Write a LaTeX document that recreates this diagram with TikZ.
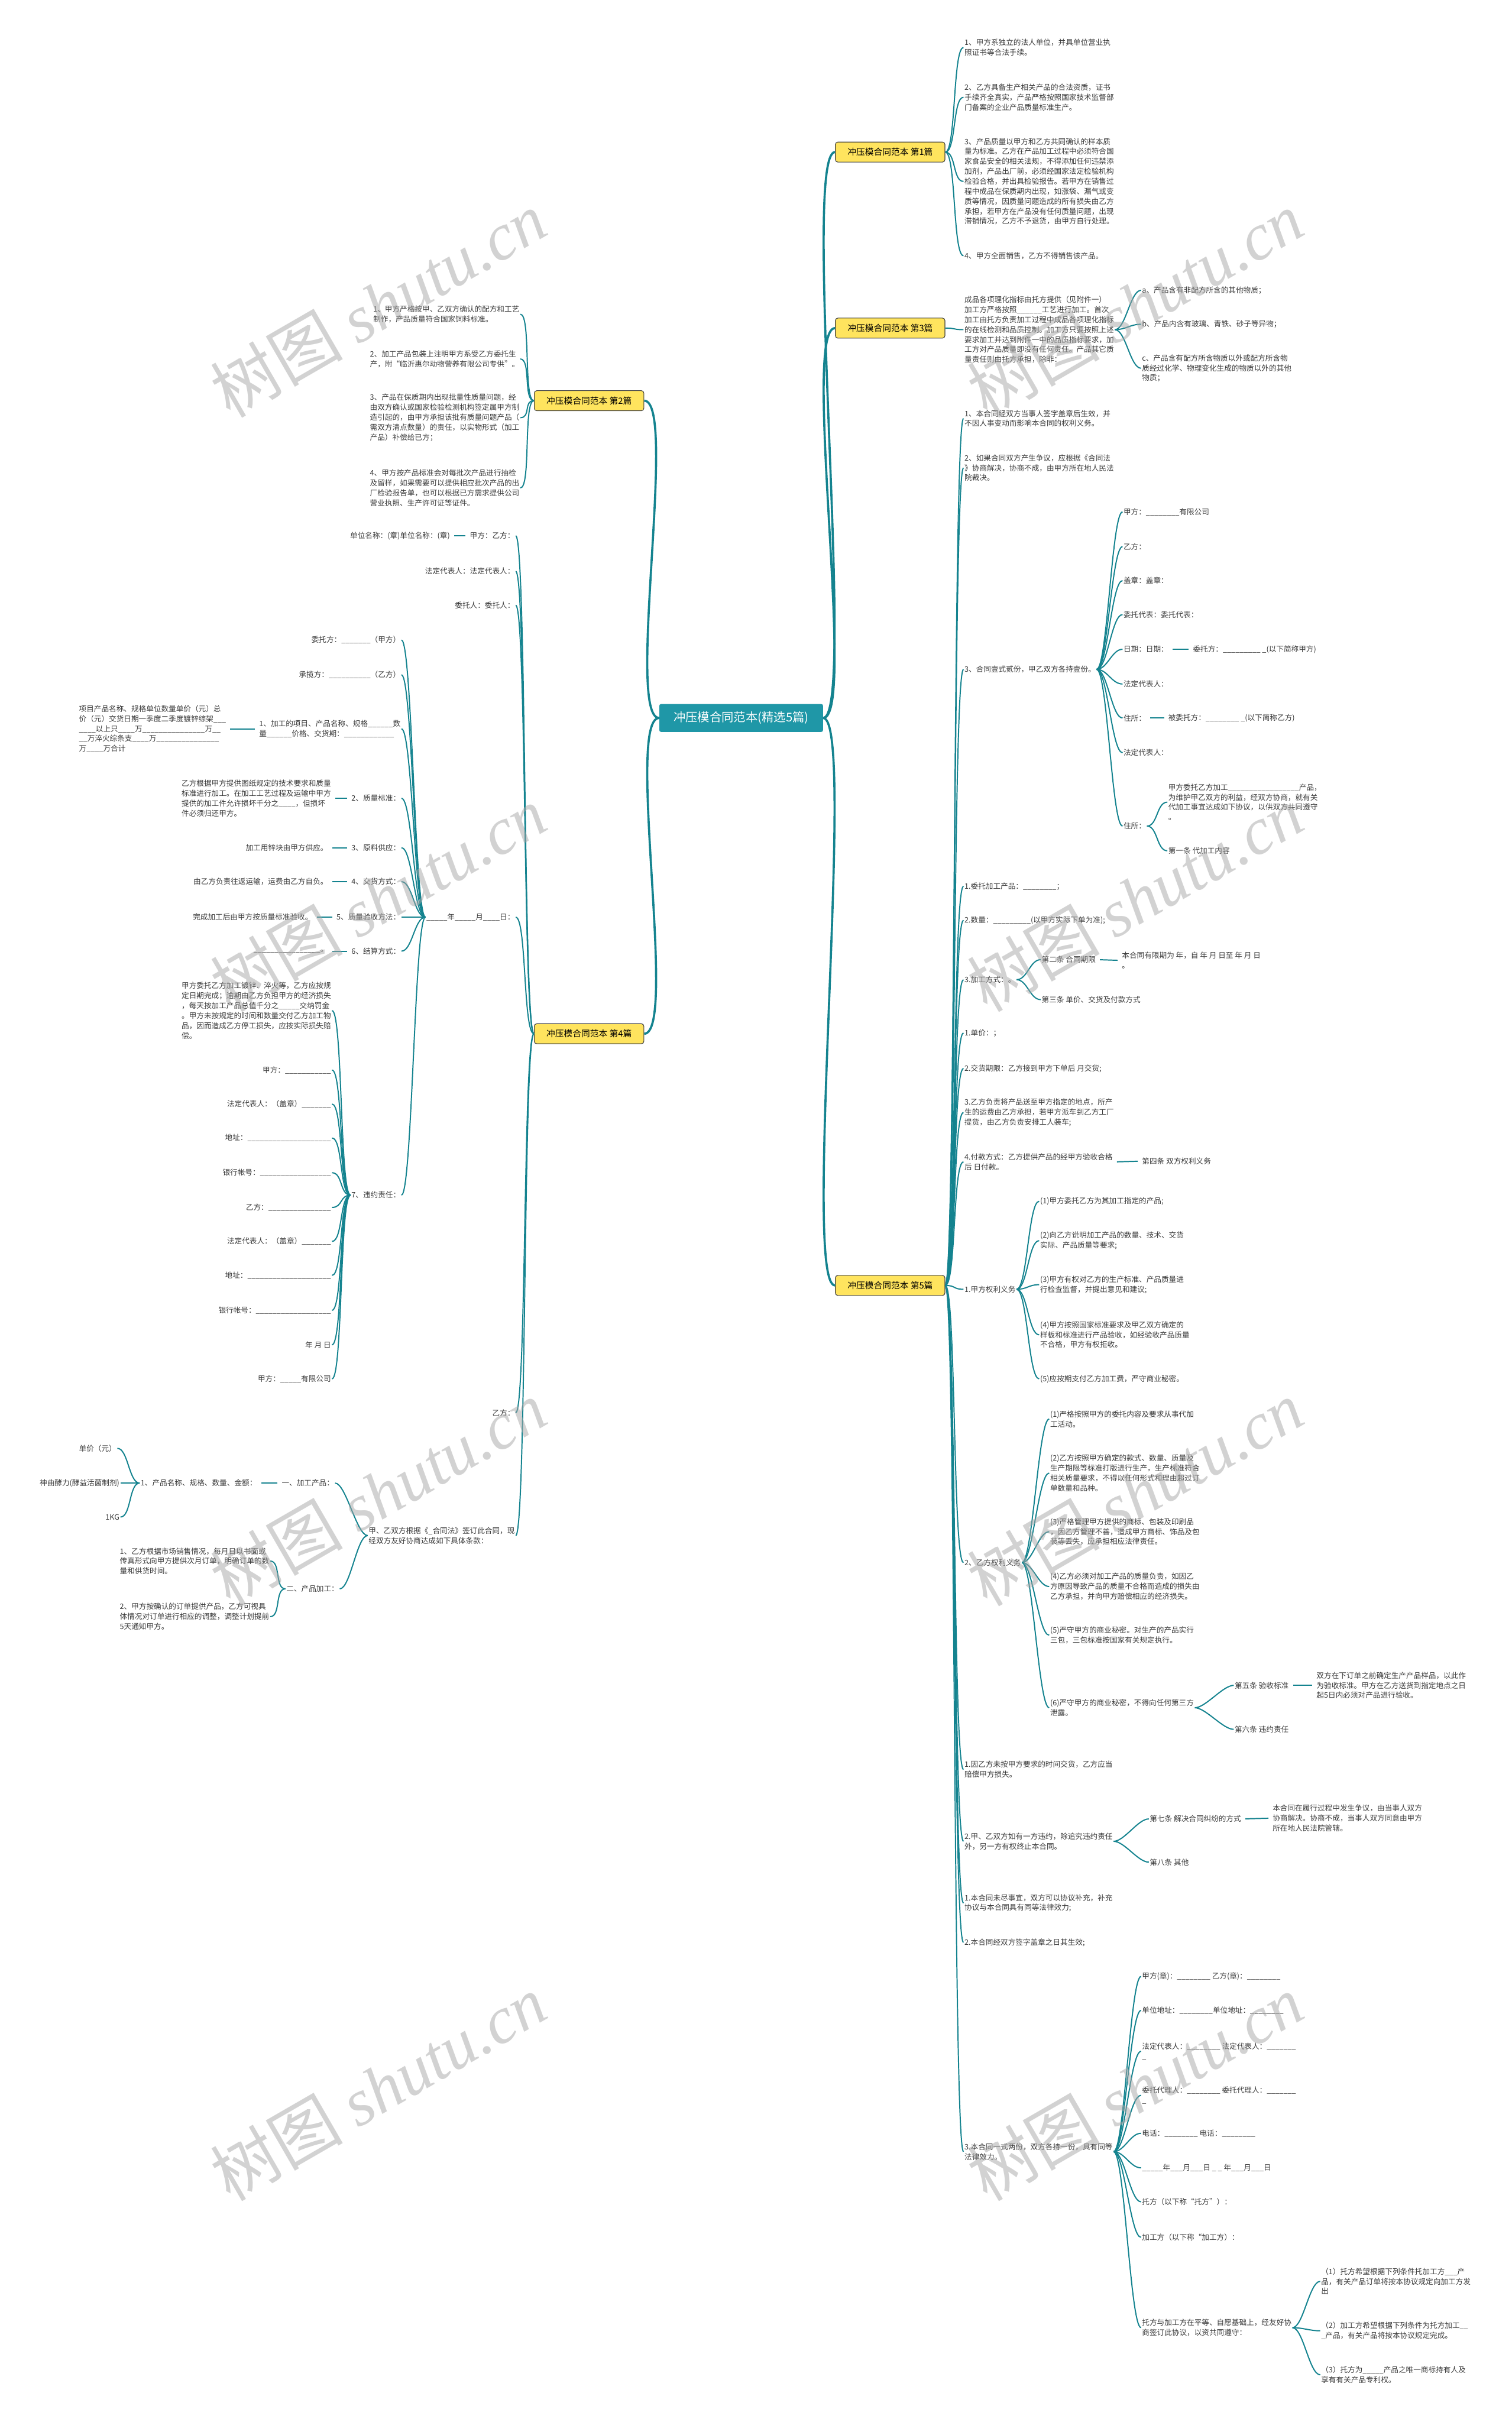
\documentclass[tikz,border=0pt]{standalone}
\usepackage{fontspec}
\setmainfont{Noto Sans CJK SC}
\newfontfamily\wmfont{Liberation Serif}
\definecolor{Stem}{HTML}{14838F}
\definecolor{Hub}{HTML}{1F97A7}
\definecolor{Tab}{HTML}{FFE45E}
\definecolor{Ink}{HTML}{3A3A3A}
\newcommand{\blanks}[1]{\foreach \j in {1,...,#1}{\_}}
\newcommand{\linkR}[2]{\draw[link] (#1.east) .. controls +(7,0) and +(-7,0) .. (#2.west);}
\newcommand{\linkL}[2]{\draw[link] (#1.west) .. controls +(-7,0) and +(7,0) .. (#2.east);}
\newcommand{\barR}[2]{\draw[link,shorten <=4pt,shorten >=4pt] (#1.east) -- (#2.west);}
\newcommand{\barL}[2]{\draw[link,shorten <=4pt,shorten >=4pt] (#1.west) -- (#2.east);}

\begin{document}
\begin{tikzpicture}[x=0.0654cm,y=-0.0654cm,
  hub/.style={fill=Hub,text=white,rounded corners=2pt,font=\fontsize{14.5}{16}\selectfont,minimum width=6.93cm,minimum height=1.18cm},
  tab/.style={fill=Tab,draw=black!75,line width=0.8pt,rounded corners=3pt,font=\fontsize{10.5}{12}\selectfont,minimum width=4.64cm,minimum height=0.85cm,inner sep=1pt},
  leaf/.style={font=\fontsize{9}{12}\selectfont,text=Ink,align=left,inner sep=1pt},
  rleaf/.style={leaf,anchor=west},
  lleaf/.style={leaf,anchor=east},
  link/.style={draw=Stem,line width=1.4pt},
  trunk/.style={draw=Stem,line width=2.6pt},
  stamp/.style={font=\fontsize{80}{80}\selectfont,text=black!35,text opacity=0.5,rotate=30}]
  \path[fill=white] (0,0) rectangle (979,1568.6);
  \useasboundingbox (0,0) rectangle (979,1568.6);

  \node[hub] (root) at (480,465) {冲压模合同范本(精选5篇)};
  \node[tab] (p1) at (576.5,98.5) {冲压模合同范本 第1篇};
  \node[tab] (p3) at (576.5,212.5) {冲压模合同范本 第3篇};
  \node[tab] (p5) at (576.5,832.5) {冲压模合同范本 第5篇};
  \node[tab] (p2) at (381.5,259.5) {冲压模合同范本 第2篇};
  \node[tab] (p4) at (381.5,669.5) {冲压模合同范本 第4篇};
  \foreach \b in {p1,p3,p5}{\draw[trunk] (root.east) .. controls +(22,0) and +(-22,0) .. (\b.west);}
  \foreach \b in {p2,p4}{\draw[trunk] (root.west) .. controls +(-22,0) and +(22,0) .. (\b.east);}

  \node[rleaf] (p1a) at (624,30.8) {1、甲方系独立的法人单位，并具单位营业执\\照证书等合法手续。};
  \node[rleaf] (p1b) at (624,63) {2、乙方具备生产相关产品的合法资质，证书\\手续齐全真实，产品严格按照国家技术监督部\\门备案的企业产品质量标准生产。};
  \node[rleaf] (p1c) at (624,117.5) {3、产品质量以甲方和乙方共同确认的样本质\\量为标准。乙方在产品加工过程中必须符合国\\家食品安全的相关法规，不得添加任何违禁添\\加剂，产品出厂前，必须经国家法定检验机构\\检验合格，并出具检验报告。若甲方在销售过\\程中成品在保质期内出现，如涨袋、漏气或变\\质等情况，因质量问题造成的所有损失由乙方\\承担，若甲方在产品没有任何质量问题，出现\\滞销情况，乙方不予退货，由甲方自行处理。};
  \node[rleaf] (p1d) at (624,165.6) {4、甲方全面销售，乙方不得销售该产品。};
  \foreach \c in {p1a,p1b,p1c,p1d}{\linkR{p1}{\c}}

  \node[rleaf] (p3t) at (624,213.5) {成品各项理化指标由托方提供（见附件一）\\加工方严格按照\blanks{6}工艺进行加工。首次\\加工由托方负责加工过程中成品各项理化指标\\的在线检测和品质控制。加工方只要按照上述\\要求加工并达到附件一中的品质指标要求，加\\工方对产品质量即没有任何责任。产品其它质\\量责任则由托方承担，除非：};
  \node[rleaf] (p3a) at (739,188) {a、产品含有非配方所含的其他物质；};
  \node[rleaf] (p3b) at (739,210) {b、产品内含有玻璃、青铁、砂子等异物；};
  \node[rleaf] (p3c) at (739,238.5) {c、产品含有配方所含物质以外或配方所含物\\质经过化学、物理变化生成的物质以外的其他\\物质；};
  \linkR{p3}{p3t}
  \foreach \c in {p3a,p3b,p3c}{\linkR{p3t}{\c}}

  \node[lleaf] (p2a) at (337,203.5) {1、甲方严格按甲、乙双方确认的配方和工艺\\制作，产品质量符合国家饲料标准。};
  \node[lleaf] (p2b) at (337,232.5) {2、加工产品包装上注明甲方系受乙方委托生\\产，附“临沂惠尔动物营养有限公司专供”。};
  \node[lleaf] (p2c) at (337,270.5) {3、产品在保质期内出现批量性质量问题，经\\由双方确认或国家检验检测机构签定属甲方制\\造引起的，由甲方承担该批有质量问题产品（\\需双方清点数量）的责任，以实物形式（加工\\产品）补偿给已方；};
  \node[lleaf] (p2d) at (337,316) {4、甲方按产品标准会对每批次产品进行抽检\\及留样，如果需要可以提供相应批次产品的出\\厂检验报告单，也可以根据已方需求提供公司\\营业执照、生产许可证等证件。};
  \foreach \c in {p2a,p2b,p2c,p2d}{\linkL{p2}{\c}}

  \node[lleaf] (p4a) at (334,347) {甲方：乙方：};
  \node[lleaf] (p4a1) at (292,347) {单位名称：(章)单位名称：(章)};
  \node[lleaf] (p4b) at (334,370) {法定代表人：法定代表人：};
  \node[lleaf] (p4c) at (334,392) {委托人：委托人：};
  \node[lleaf] (p4d) at (334,594) {\blanks{5}年\blanks{5}月\blanks{4}日：};
  \node[lleaf] (p4e) at (334,915) {乙方：};
  \node[lleaf] (p4f) at (334,994.5) {甲、乙双方根据《\_合同法》签订此合同，现\\经双方友好协商达成如下具体条款：};
  \foreach \c in {p4a,p4b,p4c,p4d,p4e,p4f}{\linkL{p4}{\c}}
  \barL{p4a}{p4a1}

  \node[lleaf] (y1) at (260,414.5) {委托方：\blanks{7}（甲方）};
  \node[lleaf] (y2) at (260,437) {承揽方：\blanks{10}（乙方）};
  \node[lleaf] (y3) at (260,472) {1、加工的项目、产品名称、规格\blanks{6}数\\量\blanks{6}价格、交货期：\blanks{12}};
  \node[lleaf] (y4) at (260,517) {2、质量标准：};
  \node[lleaf] (y5) at (260,549) {3、原料供应：};
  \node[lleaf] (y6) at (260,571) {4、交货方式：};
  \node[lleaf] (y7) at (260,594) {5、质量验收方法：};
  \node[lleaf] (y8) at (260,616) {6、结算方式：};
  \node[lleaf] (y9) at (260,774) {7、违约责任：};
  \foreach \c in {y1,y2,y3,y4,y5,y6,y7,y8,y9}{\linkL{p4d}{\c}}
  \node[lleaf] (y3a) at (147,472) {项目产品名称、规格单位数量单价（元）总\\价（元）交货日期一季度二季度镀锌综架\blanks{3}\\\blanks{4}以上只\blanks{4}万\blanks{15}万\blanks{2}\\\blanks{2}万淬火综条支\blanks{4}万\blanks{15}\\万\blanks{4}万合计};
  \node[lleaf] (y4a) at (215,517) {乙方根据甲方提供图纸规定的技术要求和质量\\标准进行加工。在加工工艺过程及运输中甲方\\提供的加工件允许损坏千分之\blanks{4}，但损坏\\件必须归还甲方。};
  \node[lleaf] (y5a) at (213,549) {加工用锌块由甲方供应。};
  \node[lleaf] (y6a) at (213,571) {由乙方负责往返运输，运费由乙方自负。};
  \node[lleaf] (y7a) at (203,594) {完成加工后由甲方按质量标准验收。};
  \node[lleaf] (y8a) at (213,616) {\blanks{16}。};
  \barL{y3}{y3a}
  \barL{y4}{y4a}
  \barL{y5}{y5a}
  \barL{y6}{y6a}
  \barL{y7}{y7a}
  \barL{y8}{y8a}
  \node[lleaf] (r1) at (215,654.5) {甲方委托乙方加工镀锌、淬火等，乙方应按规\\定日期完成；逾期由乙方负担甲方的经济损失\\，每天按加工产品总值千分之\blanks{5}交纳罚金\\。甲方未按规定的时间和数量交付乙方加工物\\品，因而造成乙方停工损失，应按实际损失赔\\偿。};
  \node[lleaf] (r2) at (215,693) {甲方：\blanks{11}};
  \node[lleaf] (r3) at (215,715) {法定代表人：（盖章）\blanks{7}};
  \node[lleaf] (r4) at (215,737) {地址：\blanks{20}};
  \node[lleaf] (r5) at (215,759.5) {银行帐号：\blanks{17}};
  \node[lleaf] (r6) at (215,782) {乙方：\blanks{15}};
  \node[lleaf] (r7) at (215,804) {法定代表人：（盖章）\blanks{7}};
  \node[lleaf] (r8) at (215,826) {地址：\blanks{20}};
  \node[lleaf] (r9) at (215,848.6) {银行帐号：\blanks{18}};
  \node[lleaf] (r10) at (215,871) {年 月 日};
  \node[lleaf] (r11) at (215,893) {甲方：\blanks{5}有限公司};
  \foreach \c in {r1,r2,r3,r4,r5,r6,r7,r8,r9,r10,r11}{\linkL{y9}{\c}}

  \node[lleaf] (s1) at (217,960.5) {一、加工产品：};
  \node[lleaf] (s2) at (220,1029) {二、产品加工：};
  \linkL{p4f}{s1}
  \linkL{p4f}{s2}
  \node[lleaf] (s1a) at (167,960.5) {1、产品名称、规格、数量、金额：};
  \barL{s1}{s1a}
  \node[lleaf] (t1) at (76,938) {单价（元）};
  \node[lleaf] (t2) at (78,960.5) {神曲酵力(酵益活菌制剂)};
  \node[lleaf] (t3) at (78,982.5) {1KG};
  \foreach \c in {t1,t2,t3}{\linkL{s1a}{\c}}
  \node[lleaf] (s2a) at (175,1011) {1、乙方根据市场销售情况，每月日以书面或\\传真形式向甲方提供次月订单，明确订单的数\\量和供货时间。};
  \node[lleaf] (s2b) at (175,1047) {2、甲方按确认的订单提供产品，乙方可视具\\体情况对订单进行相应的调整，调整计划提前\\5天通知甲方。};
  \linkL{s2}{s2a}
  \linkL{s2}{s2b}

  \node[rleaf] (p5a) at (624,271) {1、本合同经双方当事人签字盖章后生效，并\\不因人事变动而影响本合同的权利义务。};
  \node[rleaf] (p5b) at (624,303) {2、如果合同双方产生争议，应根据《合同法\\》协商解决，协商不成，由甲方所在地人民法\\院裁决。};
  \node[rleaf] (p5c) at (624,433.5) {3、合同壹式贰份，甲乙双方各持壹份。};
  \node[rleaf] (p5d) at (624,574) {1.委托加工产品：\blanks{8}；};
  \node[rleaf] (p5e) at (624,596) {2.数量：\blanks{9}(以甲方实际下单为准);};
  \node[rleaf] (p5f) at (624,634.5) {3.加工方式：。};
  \node[rleaf] (p5g) at (624,669) {1.单价：；};
  \node[rleaf] (p5h) at (624,692) {2.交货期限：乙方接到甲方下单后 月交货;};
  \node[rleaf] (p5i) at (624,720.5) {3.乙方负责将产品送至甲方指定的地点，所产\\生的运费由乙方承担，若甲方派车到乙方工厂\\提货，由乙方负责安排工人装车;};
  \node[rleaf] (p5j) at (624,752.5) {4.付款方式：乙方提供产品的经甲方验收合格\\后 日付款。};
  \node[rleaf] (p5k) at (624,835) {1.甲方权利义务};
  \node[rleaf] (p5l) at (624,1012) {2、乙方权利义务};
  \node[rleaf] (p5m) at (624,1146) {1.因乙方未按甲方要求的时间交货，乙方应当\\赔偿甲方损失。};
  \node[rleaf] (p5n) at (624,1192.5) {2.甲、乙双方如有一方违约，除追究违约责任\\外，另一方有权终止本合同。};
  \node[rleaf] (p5o) at (624,1232.5) {1.本合同未尽事宜，双方可以协议补充，补充\\协议与本合同具有同等法律效力;};
  \node[rleaf] (p5p) at (624,1258) {2.本合同经双方签字盖章之日其生效;};
  \node[rleaf] (p5q) at (624,1393.5) {3.本合同一式两份，双方各持一份，具有同等\\法律效力。};
  \foreach \c in {p5a,p5b,p5c,p5d,p5e,p5f,p5g,p5h,p5i,p5j,p5k,p5l,p5m,p5n,p5o,p5p,p5q}{\linkR{p5}{\c}}

  \node[rleaf] (c1) at (727,331.5) {甲方：\blanks{8}有限公司};
  \node[rleaf] (c2) at (727,354) {乙方：};
  \node[rleaf] (c3) at (727,376) {盖章：盖章：};
  \node[rleaf] (c4) at (727,398) {委托代表：委托代表：};
  \node[rleaf] (c5) at (727,420.5) {日期：日期：};
  \node[rleaf] (c6) at (727,443) {法定代表人：};
  \node[rleaf] (c7) at (727,465) {住所：};
  \node[rleaf] (c8) at (727,487.5) {法定代表人：};
  \node[rleaf] (c9) at (727,535) {住所：};
  \foreach \c in {c1,c2,c3,c4,c5,c6,c7,c8,c9}{\linkR{p5c}{\c}}
  \node[rleaf] (c5a) at (772,420.5) {委托方：\blanks{9} \_(以下简称甲方)};
  \node[rleaf] (c7a) at (756,465) {被委托方：\blanks{8} \_(以下简称乙方)};
  \barR{c5}{c5a}
  \barR{c7}{c7a}
  \node[rleaf] (c9a) at (756,519.5) {甲方委托乙方加工\blanks{17}产品，\\为维护甲乙双方的利益，经双方协商，就有关\\代加工事宜达成如下协议，以供双方共同遵守\\。};
  \node[rleaf] (c9b) at (756,551) {第一条 代加工内容};
  \linkR{c9}{c9a}
  \linkR{c9}{c9b}

  \node[rleaf] (f1) at (674,621.5) {第二条 合同期限};
  \node[rleaf] (f2) at (674,647.4) {第三条 单价、交货及付款方式};
  \linkR{p5f}{f1}
  \linkR{p5f}{f2}
  \node[rleaf] (f1a) at (726,622) {本合同有限期为 年，自 年 月 日至 年 月 日\\。};
  \barR{f1}{f1a}
  \node[rleaf] (j1) at (739,752) {第四条 双方权利义务};
  \barR{p5j}{j1}

  \node[rleaf] (k1) at (673,778) {(1)甲方委托乙方为其加工指定的产品;};
  \node[rleaf] (k2) at (673,803.5) {(2)向乙方说明加工产品的数量、技术、交货\\实际、产品质量等要求;};
  \node[rleaf] (k3) at (673,832) {(3)甲方有权对乙方的生产标准、产品质量进\\行检查监督，并提出意见和建议;};
  \node[rleaf] (k4) at (673,864.5) {(4)甲方按照国家标准要求及甲乙双方确定的\\样板和标准进行产品验收，如经验收产品质量\\不合格，甲方有权拒收。};
  \node[rleaf] (k5) at (673,893) {(5)应按期支付乙方加工费，严守商业秘密。};
  \foreach \c in {k1,k2,k3,k4,k5}{\linkR{p5k}{\c}}

  \node[rleaf] (l1) at (679.5,919) {(1)严格按照甲方的委托内容及要求从事代加\\工活动。};
  \node[rleaf] (l2) at (679.5,954) {(2)乙方按照甲方确定的款式、数量、质量及\\生产期限等标准打版进行生产，生产标准符合\\相关质量要求，不得以任何形式和理由超过订\\单数量和品种。};
  \node[rleaf] (l3) at (679.5,992) {(3)严格管理甲方提供的商标、包装及印刷品\\，因乙方管理不善，造成甲方商标、饰品及包\\装等丢失，应承担相应法律责任。};
  \node[rleaf] (l4) at (679.5,1027.5) {(4)乙方必须对加工产品的质量负责，如因乙\\方原因导致产品的质量不合格而造成的损失由\\乙方承担，并向甲方赔偿相应的经济损失。};
  \node[rleaf] (l5) at (679.5,1059) {(5)严守甲方的商业秘密。对生产的产品实行\\三包，三包标准按国家有关规定执行。};
  \node[rleaf] (l6) at (679.5,1106) {(6)严守甲方的商业秘密，不得向任何第三方\\泄露。};
  \foreach \c in {l1,l2,l3,l4,l5,l6}{\linkR{p5l}{\c}}
  \node[rleaf] (l6a) at (799,1091.5) {第五条 验收标准};
  \node[rleaf] (l6b) at (799,1120) {第六条 违约责任};
  \linkR{l6}{l6a}
  \linkR{l6}{l6b}
  \node[rleaf] (l6c) at (852,1091.5) {双方在下订单之前确定生产产品样品，以此作\\为验收标准。甲方在乙方送货到指定地点之日\\起5日内必须对产品进行验收。};
  \barR{l6a}{l6c}

  \node[rleaf] (n1) at (744,1178) {第七条 解决合同纠纷的方式};
  \node[rleaf] (n2) at (744,1206) {第八条 其他};
  \linkR{p5n}{n1}
  \linkR{p5n}{n2}
  \node[rleaf] (n1a) at (823.6,1177.5) {本合同在履行过程中发生争议，由当事人双方\\协商解决。协商不成，当事人双方同意由甲方\\所在地人民法院管辖。};
  \barR{n1}{n1a}

  \node[rleaf] (w1) at (739,1280) {甲方(章)：\blanks{8} 乙方(章)：\blanks{8}};
  \node[rleaf] (w2) at (739,1302) {单位地址：\blanks{8}单位地址：\blanks{8}};
  \node[rleaf] (w3) at (739,1328.5) {法定代表人：\blanks{8} 法定代表人：\blanks{7}\\\_};
  \node[rleaf] (w4) at (739,1357) {委托代理人：\blanks{8} 委托代理人：\blanks{7}\\\_};
  \node[rleaf] (w5) at (739,1381.6) {电话：\blanks{8} 电话：\blanks{8}};
  \node[rleaf] (w6) at (739,1404) {\blanks{5}年\blanks{3}月\blanks{3}日 \_ \_ 年\blanks{3}月\blanks{3}日};
  \node[rleaf] (w7) at (739,1426) {托方（以下称“托方”）：};
  \node[rleaf] (w8) at (739,1449) {加工方（以下称“加工方）：};
  \node[rleaf] (w9) at (739,1507.5) {托方与加工方在平等、自愿基础上，经友好协\\商签订此协议，以资共同遵守：};
  \foreach \c in {w1,w2,w3,w4,w5,w6,w7,w8,w9}{\linkR{p5q}{\c}}
  \node[rleaf] (v1) at (855,1477.5) {（1）托方希望根据下列条件托加工方\blanks{3}产\\品，有关产品订单将按本协议规定向加工方发\\出};
  \node[rleaf] (v2) at (855,1509.5) {（2）加工方希望根据下列条件为托方加工\blanks{2}\\\_产品，有关产品将按本协议规定完成。};
  \node[rleaf] (v3) at (855,1538) {（3）托方为\blanks{5}产品之唯一商标持有人及\\享有有关产品专利权。};
  \foreach \c in {v1,v2,v3}{\linkR{w9}{\c}}

  \foreach \wx/\wy [count=\i] in {245/197,735/197,245/582,735/582,245/967,735/967,245/1352,735/1352}
    \node[stamp] (wm\i) at (\wx,\wy) {树图 {\wmfont\itshape shutu.cn}};
\end{tikzpicture}
\end{document}
